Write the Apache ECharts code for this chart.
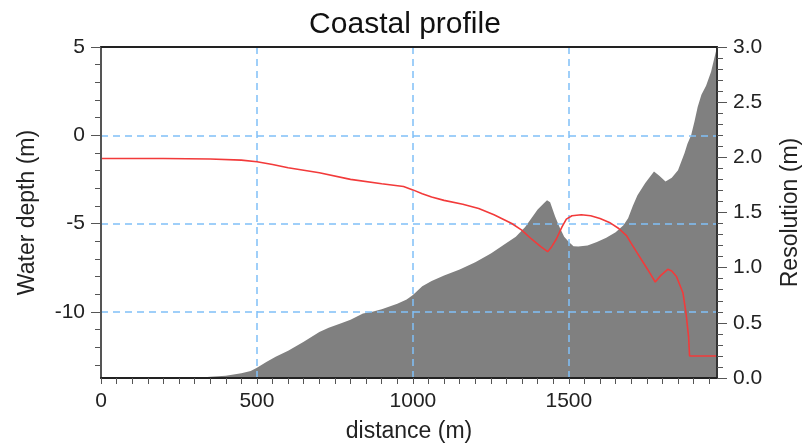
<!DOCTYPE html>
<html>
<head>
<meta charset="utf-8">
<script src="https://cdn.jsdelivr.net/npm/echarts@6/dist/echarts.min.js"></script>
<style>
html,body{margin:0;padding:0;background:#fff;}
#chart{width:810px;height:448px;}
</style>
</head>
<body>
<div id="chart"></div>
<script>
// Bottom profile (distance in m, water depth in m)
var profileDistance = [0,100,150,200,300,350,400,450,480,500,530,560,600,650,700,730,770,800,840,870,900,950,980,1000,1030,1060,1100,1150,1200,1250,1300,1330,1360,1400,1420,1430,1440,1456,1470,1485,1500,1515,1530,1560,1590,1620,1650,1675,1690,1705,1720,1745,1773,1790,1810,1830,1850,1871,1880,1892,1903,1913,1925,1940,1956,1975];
var profileDepth = [-13.72,-13.72,-13.72,-13.75,-13.75,-13.68,-13.62,-13.48,-13.35,-13.17,-12.85,-12.55,-12.2,-11.7,-11.15,-10.9,-10.65,-10.45,-10.1,-10.0,-9.85,-9.55,-9.3,-9.05,-8.55,-8.25,-7.95,-7.6,-7.2,-6.7,-6.1,-5.75,-5.2,-4.2,-3.85,-3.68,-3.8,-4.6,-5.2,-5.75,-6.05,-6.28,-6.3,-6.25,-6.05,-5.8,-5.5,-5.1,-4.7,-4.0,-3.4,-2.7,-2.05,-2.3,-2.62,-2.4,-1.98,-1.0,-0.5,0.0,0.8,1.6,2.3,2.8,3.6,5.0];

// Grid resolution (distance in m, resolution in m)
var resDistance = [0,200,350,450,500,550,600,700,800,900,970,1000,1030,1060,1100,1160,1211,1260,1317,1349,1380,1410,1432,1445,1460,1478,1492,1510,1540,1570,1600,1630,1660,1685,1700,1720,1740,1760,1777,1795,1817,1830,1845,1866,1876,1884,1887,1975];
var resValue = [1.99,1.99,1.985,1.975,1.96,1.935,1.905,1.86,1.8,1.76,1.735,1.705,1.67,1.64,1.61,1.575,1.536,1.48,1.40,1.34,1.26,1.19,1.145,1.19,1.26,1.37,1.44,1.47,1.48,1.47,1.445,1.41,1.355,1.29,1.22,1.13,1.04,0.95,0.87,0.93,0.985,0.97,0.92,0.77,0.58,0.37,0.2,0.2];

// Axis ticks / labels
var xLabelTicks = [0,500,1000,1500];
var xGridTicks = [500,1000,1500];
var xMin = 0, xMax = 1975, xMinorStep = 50;
var depthLabelTicks = [-10,-5,0,5];
var depthGridTicks = [-10,-5,0];
var depthMin = -13.75, depthMax = 5;
var depthMinorTicks = [-13,-12,-11,-9,-8,-7,-6,-4,-3,-2,-1,1,2,3,4];
var resMin = 0, resMax = 3, resInterval = 0.5;

var xMinorTicks = [];
for (var v = xMin; v <= xMax; v += xMinorStep) xMinorTicks.push(v);

var FONT = 'Liberation Sans';
var profileData = profileDistance.map(function(d,i){return [d, profileDepth[i]];});
var resData = resDistance.map(function(d,i){return [d, resValue[i]];});

var gridMarks = xGridTicks.map(function(x){return {xAxis:x};})
  .concat(depthGridTicks.map(function(y){return {yAxis:y};}));

var chart = echarts.init(document.getElementById('chart'), null, {renderer:'canvas'});
chart.setOption({
  animation:false,
  backgroundColor:'#ffffff',
  title:{text:'Coastal profile', left:'center', top:5,
    textStyle:{fontFamily:FONT, fontSize:30, fontWeight:'normal', color:'#111'}},
  grid:{left:101, right:91, top:47, bottom:70, containLabel:false},
  xAxis:[
    {type:'value', position:'bottom', min:xMin, max:xMax,
     name:'distance (m)', nameLocation:'middle', nameGap:42,
     nameTextStyle:{fontFamily:FONT, fontSize:23, color:'#222'},
     axisLine:{show:true, onZero:false, lineStyle:{color:'#222', width:2}},
     axisTick:{show:true, length:6, customValues:xMinorTicks, lineStyle:{color:'#555', width:1}},
     axisLabel:{show:true, customValues:xLabelTicks, margin:13, fontFamily:FONT, fontSize:21, color:'#222',
       formatter:function(v){return String(v);}},
     splitLine:{show:false}, z:6},
    {type:'value', position:'top', min:xMin, max:xMax,
     axisLine:{show:true, onZero:false, lineStyle:{color:'#222', width:2}},
     axisTick:{show:false},
     axisLabel:{show:false},
     splitLine:{show:false}, z:6}
  ],
  yAxis:[
    {type:'value', position:'left', min:depthMin, max:depthMax,
     name:'Water depth (m)', nameLocation:'middle', nameGap:62,
     nameTextStyle:{fontFamily:FONT, fontSize:23, color:'#222'},
     axisLine:{show:true, onZero:false, lineStyle:{color:'#555', width:2}},
     axisTick:{show:true, length:10, customValues:depthLabelTicks, lineStyle:{color:'#555', width:1}},
     axisLabel:{show:true, customValues:depthLabelTicks, margin:16, fontFamily:FONT, fontSize:21, color:'#222'},
     splitLine:{show:false}, z:6},
    {type:'value', position:'right', min:resMin, max:resMax, interval:resInterval,
     name:'Resolution (m)', nameLocation:'middle', nameGap:62, nameRotate:90,
     nameTextStyle:{fontFamily:FONT, fontSize:23, color:'#222'},
     axisLine:{show:true, onZero:false, lineStyle:{color:'#333', width:2}},
     axisTick:{show:true, length:10, lineStyle:{color:'#555', width:1}},
     minorTick:{show:true, splitNumber:5, length:6, lineStyle:{color:'#555', width:1}},
     axisLabel:{show:true, margin:16, fontFamily:FONT, fontSize:21, color:'#222',
       formatter:function(v){return v.toFixed(1);}},
     splitLine:{show:false}, z:6},
    {type:'value', position:'left', min:depthMin, max:depthMax,
     axisLine:{show:false},
     axisTick:{show:true, length:6, customValues:depthMinorTicks, lineStyle:{color:'#555', width:1}},
     axisLabel:{show:false},
     splitLine:{show:false}, z:6}
  ],
  series:[
    {type:'line', name:'Bottom', xAxisIndex:0, yAxisIndex:0, data:profileData,
     showSymbol:false, symbol:'none', z:2,
     lineStyle:{width:0, color:'#808080'},
     areaStyle:{color:'#808080', opacity:1, origin:'start'},
     markLine:{silent:true, symbol:['none','none'], animation:false, z:3, precision:4,
       label:{show:false}, emphasis:{disabled:true},
       lineStyle:{color:'#80c0f8', width:1.5, type:[7,5], opacity:1},
       data:gridMarks}},
    {type:'line', name:'Resolution', xAxisIndex:0, yAxisIndex:1, data:resData,
     showSymbol:false, symbol:'none', z:5,
     lineStyle:{width:1.6, color:'#f23a3a'}}
  ]
});
</script>
</body>
</html>
